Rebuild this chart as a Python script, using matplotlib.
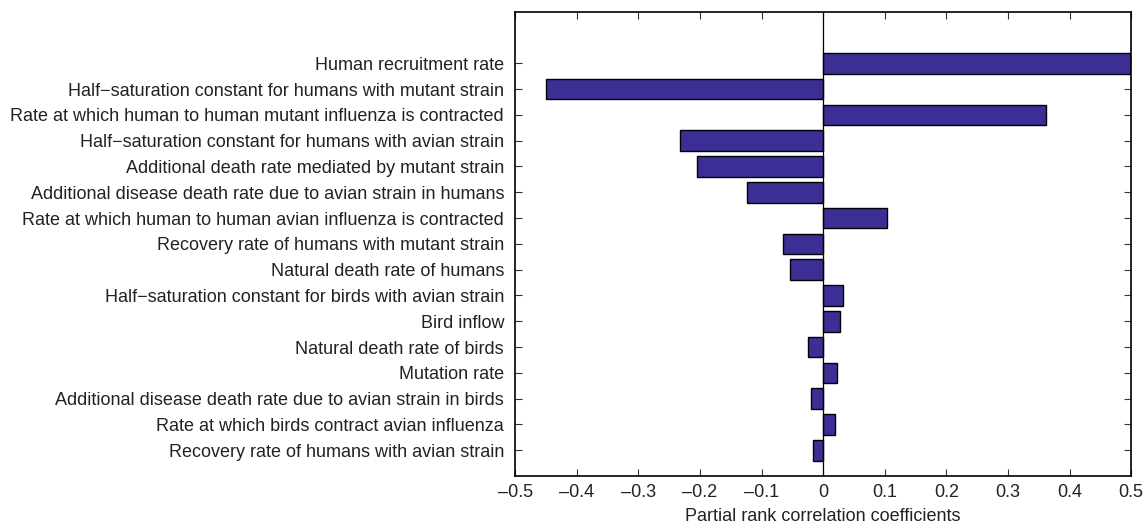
import matplotlib
matplotlib.use("Agg")
import matplotlib.pyplot as plt
import numpy as np

parameters = [
    "Human recruitment rate",
    "Half\u2212saturation constant for humans with mutant strain",
    "Rate at which human to human mutant influenza is contracted",
    "Half\u2212saturation constant for humans with avian strain",
    "Additional death rate mediated by mutant strain",
    "Additional disease death rate due to avian strain in humans",
    "Rate at which human to human avian influenza is contracted",
    "Recovery rate of humans with mutant strain",
    "Natural death rate of humans",
    "Half\u2212saturation constant for birds with avian strain",
    "Bird inflow",
    "Natural death rate of birds",
    "Mutation rate",
    "Additional disease death rate due to avian strain in birds",
    "Rate at which birds contract avian influenza",
    "Recovery rate of humans with avian strain",
]
prcc = [0.500, -0.450, 0.362, -0.233, -0.204, -0.124, 0.104, -0.065,
        -0.054, 0.033, 0.028, -0.025, 0.022, -0.020, 0.019, -0.016]
xticks = [-0.5, -0.4, -0.3, -0.2, -0.1, 0, 0.1, 0.2, 0.3, 0.4, 0.5]
xticklabels = ["\u20130.5", "\u20130.4", "\u20130.3", "\u20130.2", "\u20130.1", "0",
               "0.1", "0.2", "0.3", "0.4", "0.5"]

plt.rcParams["font.family"] = ["Liberation Sans", "DejaVu Sans"]
text_color = "#222222"

fig = plt.figure(figsize=(11.46, 5.29), dpi=100)
ax = fig.add_axes([0.4495, 0.100, 0.5375, 0.878])

n = len(parameters)
ypos = np.arange(n, 0, -1)
ax.barh(ypos, prcc, height=0.8, color="#3b2f96", edgecolor="black",
        linewidth=1.0, zorder=2)
ax.axvline(0, color="black", linewidth=0.9, zorder=3)

ax.set_xlim(-0.5, 0.5)
ax.set_ylim(0, n + 2)
ax.set_xticks(xticks)
ax.set_xticklabels(xticklabels, fontsize=13, color=text_color)
ax.set_yticks(ypos)
ax.set_yticklabels(parameters, fontsize=13, color=text_color)
ax.tick_params(axis="both", direction="in", length=5, width=0.8,
               top=True, right=True, color="#333333")
ax.tick_params(axis="y", pad=8)
ax.tick_params(axis="x", pad=6)
for s in ax.spines.values():
    s.set_linewidth(1.2)
ax.set_xlabel("Partial rank correlation coefficients", fontsize=13,
              color=text_color, labelpad=5)

fig.savefig("out.png", dpi=100)
